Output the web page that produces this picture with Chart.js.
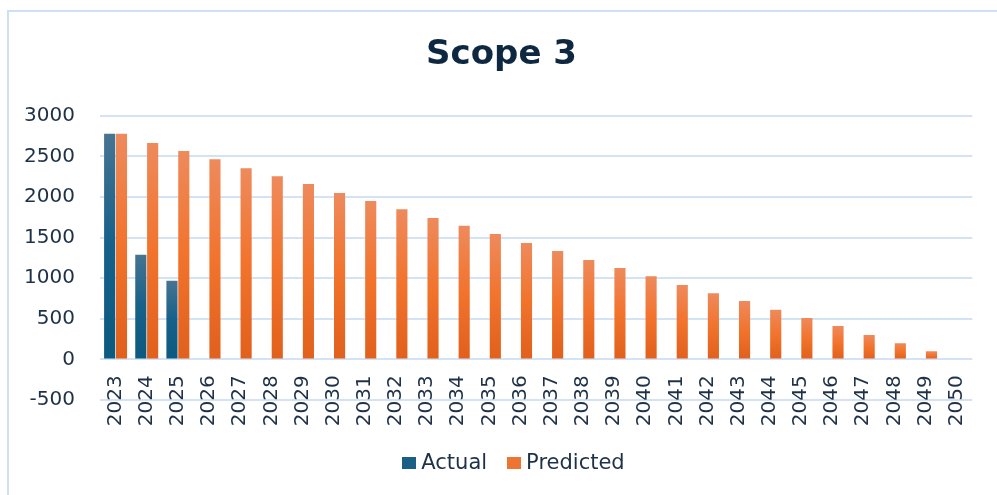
<!DOCTYPE html>
<html>
<head>
<meta charset="utf-8">
<style>
    body {
        margin: 0;
        background: #ffffff;
        font-family: 'DejaVu Sans', Arial, sans-serif;
    }
    .frame {
        position: absolute;
        left: 7px;
        top: 10px;
        width: 1100px;
        height: 600px;
        border-top: 2px solid #cfe0f4;
        border-left: 2px solid #cfe0f4;
    }
    .chart-box {
        position: absolute;
        left: 0;
        top: 0;
        width: 997px;
        height: 495px;
    }
    .legend {
        position: absolute;
        left: 0;
        width: 1027px;
        top: 450px;
        text-align: center;
        font-size: 21px;
        color: #1f3146;
        white-space: nowrap;
    }
    .legend span.item {
        display: inline-block;
        margin: 0 10px;
    }
    .legend i {
        display: inline-block;
        width: 14px;
        height: 12px;
        margin-right: 5px;
    }
</style>
</head>
<body>
<div class="frame"></div>
<div class="chart-box">
    <canvas id="scopeChart" width="997" height="495"></canvas>
</div>
<div class="legend" id="legend"></div>

<script src="https://cdn.jsdelivr.net/npm/chart.js"></script>
<script>
    // data
    const years = ['2023', '2024', '2025', '2026', '2027', '2028', '2029', '2030', '2031', '2032',
        '2033', '2034', '2035', '2036', '2037', '2038', '2039', '2040', '2041', '2042',
        '2043', '2044', '2045', '2046', '2047', '2048', '2049', '2050'];
    const actual = [2780, 1290, 970, null, null, null, null, null, null, null,
        null, null, null, null, null, null, null, null, null, null,
        null, null, null, null, null, null, null, null];
    const predicted = [2780, 2665, 2565, 2465, 2355, 2255, 2160, 2050, 1950, 1850,
        1740, 1645, 1545, 1435, 1335, 1225, 1125, 1025, 915, 815,
        720, 610, 510, 410, 300, 200, 100, 0];
    const yTicks = [-500, 0, 500, 1000, 1500, 2000, 2500, 3000];

    const textColor = '#1f3146';

    // vertical gradient for each bar, lighter at the top
    function barFill(top, mid, bottom) {
        return function (ctx) {
            if (ctx.type !== 'data' || ctx.raw == null) return mid;
            const chart = ctx.chart;
            const y = chart.scales.y;
            if (!y) return mid;
            const yTop = y.getPixelForValue(ctx.raw);
            const yBase = y.getPixelForValue(0);
            if (!isFinite(yTop) || !isFinite(yBase) || yTop === yBase) return mid;
            const g = chart.ctx.createLinearGradient(0, yTop, 0, yBase);
            g.addColorStop(0, top);
            g.addColorStop(0.5, mid);
            g.addColorStop(1, bottom);
            return g;
        };
    }

    const series = [
        { label: 'Actual', data: actual, colors: ['#477491', '#16608a', '#0c5a80'], swatch: '#1b5f86' },
        { label: 'Predicted', data: predicted, colors: ['#ee8a5c', '#f2732c', '#e0601c'], swatch: '#ee7433' }
    ];

    const ctx = document.getElementById('scopeChart').getContext('2d');
    const scopeChart = new Chart(ctx, {
        type: 'bar',
        data: {
            labels: years,
            datasets: series.map(s => ({
                label: s.label,
                data: s.data,
                backgroundColor: barFill(s.colors[0], s.colors[1], s.colors[2]),
                borderWidth: 0,
                barPercentage: 0.94,
                categoryPercentage: 0.76
            }))
        },
        options: {
            responsive: false,
            animation: false,
            layout: {
                padding: { left: 22, right: 16, top: 0, bottom: 95 }
            },
            plugins: {
                legend: { display: false },
                tooltip: { enabled: false },
                title: {
                    display: true,
                    text: 'Scope 3',
                    color: '#0e2841',
                    font: { family: 'DejaVu Sans', size: 34, weight: 'bold', lineHeight: 1.2 },
                    padding: { top: 35, bottom: 40 }
                }
            },
            scales: {
                x: {
                    position: { y: 0 },
                    grid: { display: false, drawTicks: false },
                    border: { display: false },
                    ticks: {
                        autoSkip: false,
                        minRotation: 90,
                        maxRotation: 90,
                        padding: 16,
                        color: textColor,
                        font: { family: 'DejaVu Sans', size: 20 }
                    }
                },
                y: {
                    min: yTicks[0],
                    max: yTicks[yTicks.length - 1],
                    afterBuildTicks: scale => {
                        scale.ticks = yTicks.map(v => ({ value: v }));
                    },
                    afterFit: scale => {
                        scale.width = 78;
                    },
                    grid: { color: '#d3e3f5', lineWidth: 2, drawTicks: false },
                    border: { display: false },
                    ticks: {
                        padding: 25,
                        color: textColor,
                        font: { family: 'DejaVu Sans', size: 20 },
                        callback: v => String(v)
                    }
                }
            }
        }
    });

    // legend below the chart
    const legend = document.getElementById('legend');
    series.forEach(s => {
        const item = document.createElement('span');
        item.className = 'item';
        const box = document.createElement('i');
        box.style.background = s.swatch;
        item.appendChild(box);
        item.appendChild(document.createTextNode(s.label));
        legend.appendChild(item);
    });
</script>
</body>
</html>
